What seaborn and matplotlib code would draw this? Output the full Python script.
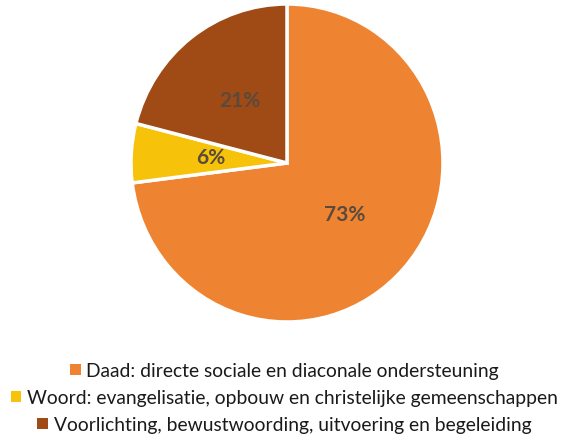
import matplotlib
matplotlib.use("Agg")
import matplotlib.pyplot as plt
import seaborn as sns
from matplotlib.patches import Patch

sns.set_theme(style="white")
plt.rcParams['font.family'] = ['Lato', 'DejaVu Sans']

# Data
categories = [
    "Daad: directe sociale en diaconale ondersteuning",
    "Woord: evangelisatie, opbouw en christelijke gemeenschappen",
    "Voorlichting, bewustwoording, uitvoering en begeleiding",
]
shares = [73, 6, 21]
colors = ["#EE8432", "#F6C20A", "#A04B16"]

fig = plt.figure(figsize=(5.69, 4.36), dpi=100)
ax = fig.add_axes([(287 - 156) / 569, (436 - 163 - 159) / 436, 312 / 569, 318 / 436])

wedges, texts, autotexts = ax.pie(
    shares, colors=colors, startangle=90, counterclock=False,
    autopct="%d%%", pctdistance=0.49,
    wedgeprops=dict(edgecolor="white", linewidth=2.5),
    textprops=dict(color="#5a4a3c", fontsize=15, fontweight="bold"),
)
ax.set_xlim(-1, 1)
ax.set_ylim(-1, 1)
ax.set_aspect("auto")

# One legend line per category, each centred like the reference
ys = [371, 398, 425]
for label, color, y in zip(categories, colors, ys):
    fig.legend(handles=[Patch(facecolor=color, edgecolor="none")], labels=[label],
               loc="center", bbox_to_anchor=(0.5, 1 - y / 436), frameon=False,
               fontsize=13.9, handlelength=0.55, handleheight=0.55, handletextpad=0.3,
               borderpad=0, labelcolor="#1a1a1a")

fig.savefig("out.png", dpi=100)
